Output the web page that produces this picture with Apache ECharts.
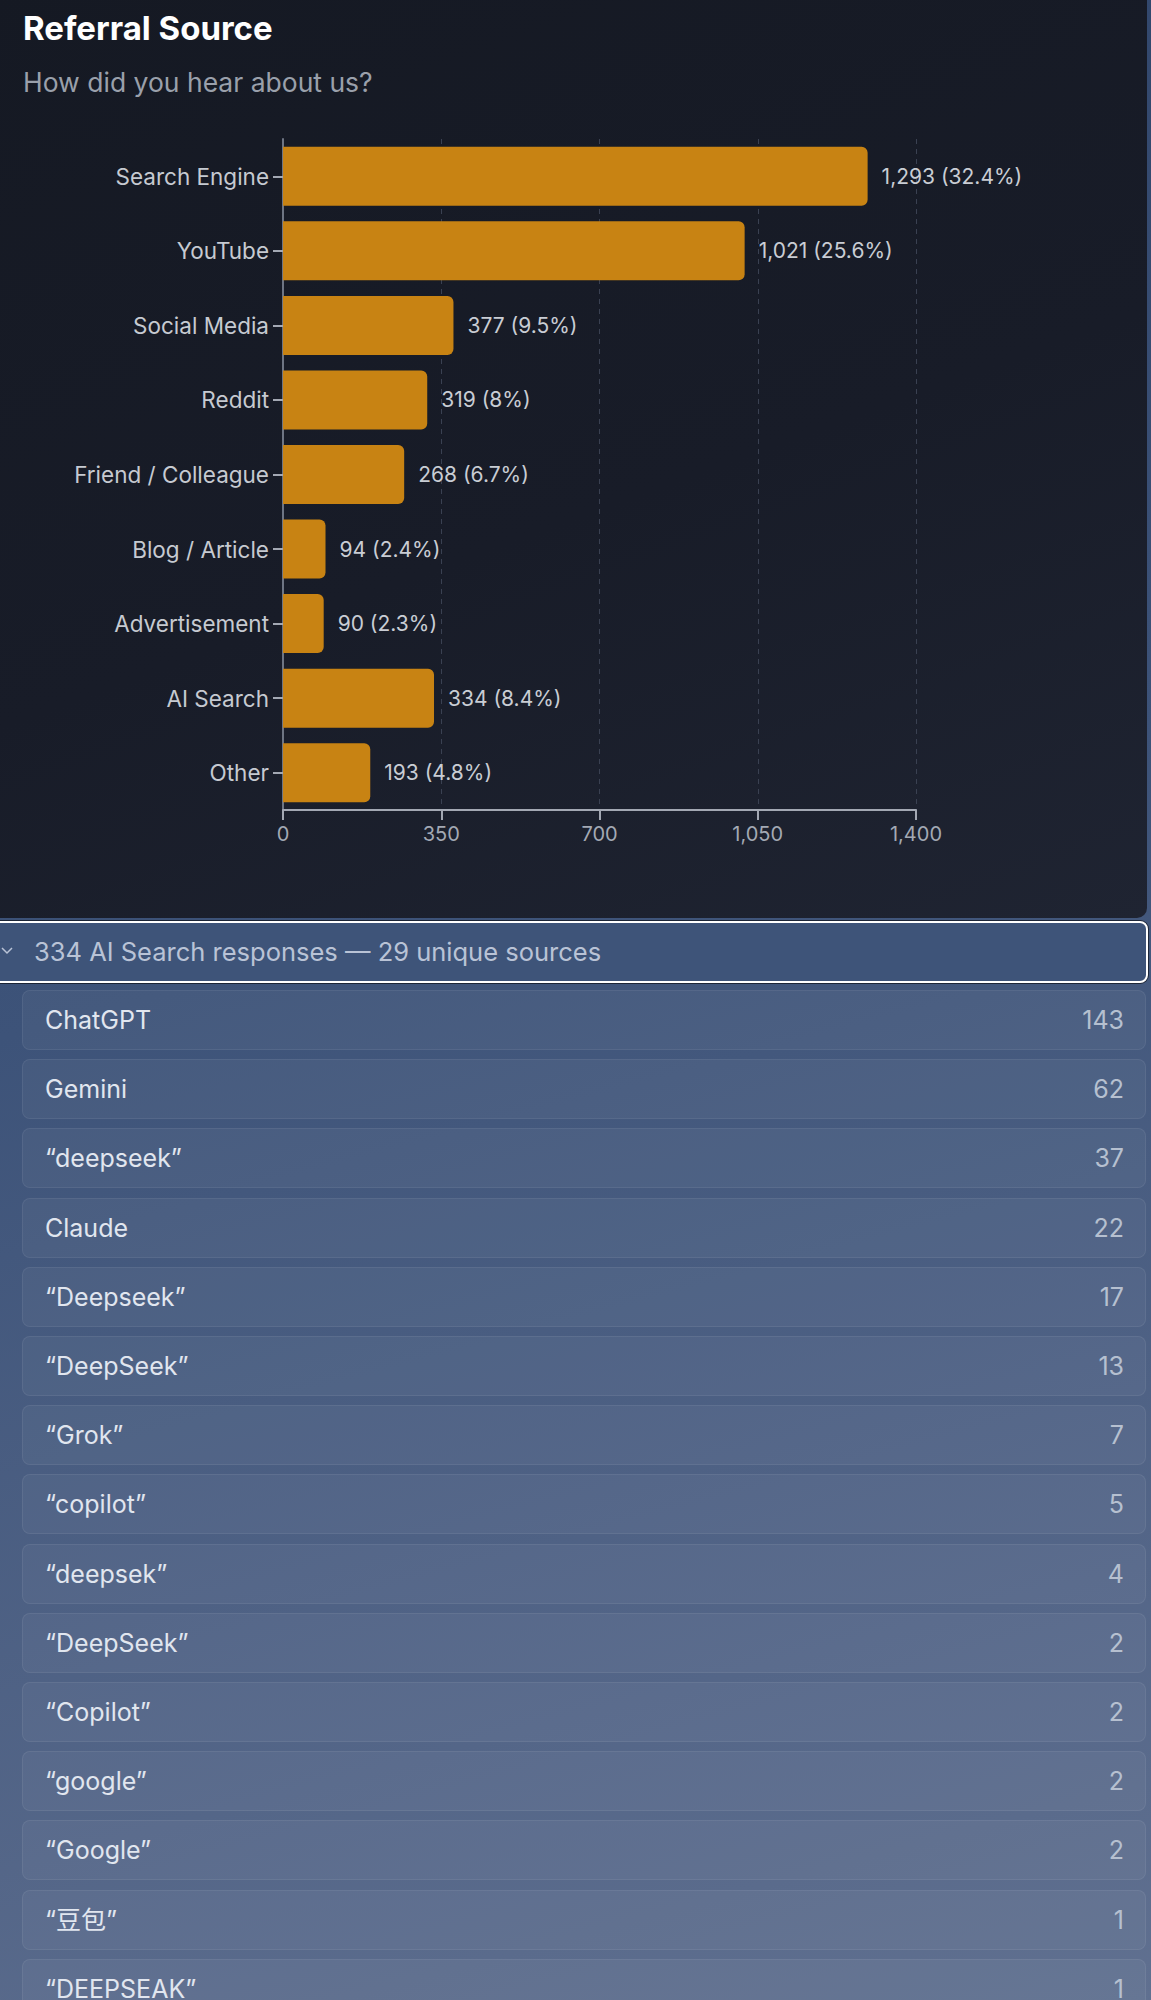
<!DOCTYPE html>
<html>
<head>
<meta charset="utf-8">
<title>Referral Source</title>
<script src="https://cdn.jsdelivr.net/npm/echarts@6/dist/echarts.min.js"></script>
<style>
  html, body { margin: 0; padding: 0; }
  body {
    width: 1151px; height: 2000px; overflow: hidden; position: relative;
    background: linear-gradient(165deg, #2e4368 0%, #3d5379 45%, #607090 100%);
    font-family: Inter, "Noto Sans", "Noto Sans CJK SC", sans-serif;
  }
  .card {
    position: absolute; left: -12px; top: -12px; width: 1159px; height: 930px;
    border-radius: 10px;
    background: linear-gradient(160deg, #151923 0%, #181c28 55%, #1f2432 100%);
  }
  #chart { position: absolute; left: 0; top: 0; width: 1151px; height: 918px; }
  .header {
    position: absolute; left: -10px; top: 921px; width: 1158px; height: 62px;
    box-sizing: border-box; border: 2px solid #ffffff; border-radius: 8px;
    box-shadow: 0 0 0 1px rgba(0, 0, 0, 0.55);
    background: #3e5479;
  }
  .header span {
    position: absolute; left: 42px; top: 0; line-height: 58px;
    font-size: 25.5px; color: #b9c3d6;
  }
  .chev { position: absolute; left: 1px; top: 947px; }
  .row {
    position: absolute; left: 22px; width: 1124px; height: 60px;
    box-sizing: border-box; border-radius: 8px;
    background: rgba(255, 255, 255, 0.045);
    border: 1px solid rgba(255, 255, 255, 0.065);
    font-size: 25px; line-height: 58px;
  }
  .row .name { position: absolute; left: 22px; color: #e1e6ef; }
  .row .count { position: absolute; right: 21px; color: #b6c0d0; }
</style>
</head>
<body>
<div class="card"></div>
<div id="chart"></div>
<div class="header"><span></span></div>
<svg class="chev" width="12" height="8"><polyline points="1,1 6,6 11,1" fill="none" stroke="#b9c3d6" stroke-width="1.5"/></svg>
<div id="list"></div>
<script>
// referral counts
const categories = ['Search Engine', 'YouTube', 'Social Media', 'Reddit', 'Friend / Colleague',
  'Blog / Article', 'Advertisement', 'AI Search', 'Other'];
const counts = [1293, 1021, 377, 319, 268, 94, 90, 334, 193];
const xTicks = [0, 350, 700, 1050, 1400];

// AI search breakdown
const aiSources = ['ChatGPT', 'Gemini', '“deepseek”', 'Claude', '“Deepseek”', '“DeepSeek”', '“Grok”',
  '“copilot”', '“deepsek”', '“DeepSeek”', '“Copilot”', '“google”', '“Google”', '“豆包”', '“DEEPSEAK”'];
const aiCounts = [143, 62, 37, 22, 17, 13, 7, 5, 4, 2, 2, 2, 2, 1, 1];
const aiTotal = 334;
const aiUnique = 29;

const total = counts.reduce((a, b) => a + b, 0);
const fmt = n => n.toLocaleString('en-US');

const chart = echarts.init(document.getElementById('chart'), null, { renderer: 'svg' });
chart.setOption({
  backgroundColor: 'transparent',
  textStyle: { fontFamily: 'Inter, "Noto Sans", sans-serif' },
  title: {
    text: 'Referral Source',
    subtext: 'How did you hear about us?',
    left: 18,
    top: 6,
    itemGap: 24,
    textStyle: { color: '#ffffff', fontSize: 33, fontWeight: 700 },
    subtextStyle: { color: '#9aa0ab', fontSize: 26.5 }
  },
  grid: { left: 283, top: 139, width: 633, height: 671, containLabel: false },
  xAxis: {
    type: 'value',
    min: xTicks[0],
    max: xTicks[xTicks.length - 1],
    interval: xTicks[1] - xTicks[0],
    axisLine: { show: true, lineStyle: { color: '#a3a8b3', width: 2 } },
    axisTick: { show: true, length: 10, lineStyle: { color: '#a3a8b3', width: 2 } },
    axisLabel: { color: '#a3a9b4', fontSize: 20, margin: 14, formatter: v => fmt(v) },
    splitLine: { show: true, lineStyle: { color: '#3a4152', type: [5, 5], width: 1 } }
  },
  yAxis: {
    type: 'category',
    data: categories,
    inverse: true,
    axisLine: { show: true, lineStyle: { color: '#6e7583', width: 2 } },
    axisTick: { show: true, alignWithLabel: true, length: 10, lineStyle: { color: '#a3a8b3', width: 2 } },
    axisLabel: { color: '#c6cad1', fontSize: 22.5, margin: 14 }
  },
  series: [{
    type: 'bar',
    data: counts,
    barWidth: 59,
    itemStyle: { color: '#c88313', borderRadius: [0, 6, 6, 0] },
    label: {
      show: true,
      position: 'right',
      distance: 14,
      color: '#c9cdd4',
      fontSize: 21,
      formatter: p => `${fmt(p.value)} (${parseFloat((p.value / total * 100).toFixed(1))}%)`
    }
  }]
});

document.querySelector('.header span').textContent =
  `${aiTotal} AI Search responses — ${aiUnique} unique sources`;

const list = document.getElementById('list');
aiSources.forEach((name, i) => {
  const row = document.createElement('div');
  row.className = 'row';
  row.style.top = (990 + i * 69.2) + 'px';
  row.innerHTML = `<span class="name"></span><span class="count"></span>`;
  row.querySelector('.name').textContent = name;
  row.querySelector('.count').textContent = aiCounts[i];
  list.appendChild(row);
});
</script>
</body>
</html>
